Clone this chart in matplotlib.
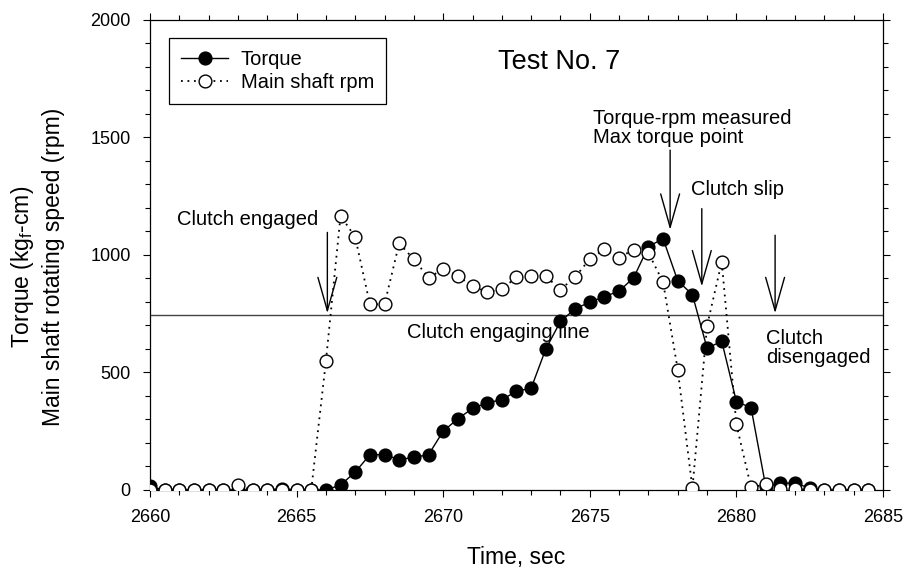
import numpy as np
import matplotlib
matplotlib.use('Agg')
import matplotlib.pyplot as plt
from matplotlib.ticker import MultipleLocator

plt.rcParams['font.family'] = ['Liberation Sans', 'DejaVu Sans']
plt.rcParams['mathtext.fontset'] = 'custom'
plt.rcParams['mathtext.rm'] = 'Liberation Sans'

# time samples every 0.5 s
time = np.arange(2660, 2685, 0.5)

torque = [15, 0, 0, 0, 0, 0, 0, 0, 0, 5, 0, 0,
          0, 21, 76, 150, 150, 129, 139, 150, 250, 303, 347, 371, 384, 420, 433,
          600, 717, 771, 799, 823, 846, 904, 1036, 1069, 890, 831, 603, 633,
          376, 350, 15, 29, 29, 8, 0, 0, 0, 0]

rpm = [0, 0, 0, 0, 0, 0, 20, 0, 0, 0, 0, 0,
       547, 1167, 1076, 790, 790, 1050, 981, 904, 939, 911, 867, 843, 854,
       906, 911, 909, 853, 906, 983, 1024, 989, 1023, 1009, 884, 511, 7, 699,
       971, 279, 11, 24, 5, 5, 0, 0, 0, 0, 0]

engaging_level = 745

# arrows: x, top, tip
arrows = [
    (2666.05, 1096, 752),
    (2677.74, 1446, 1107),
    (2678.82, 1197, 866),
    (2681.32, 1084, 752),
]

fig = plt.figure(figsize=(9.05, 5.7), dpi=100)
ax = fig.add_axes([0.1657, 0.1404, 0.8100, 0.8246])

ax.plot(time, torque, color='black', lw=1.0, marker='o', markersize=9.2,
        markerfacecolor='black', markeredgecolor='black', label='Torque',
        zorder=3)
ax.plot(time, rpm, color='black', lw=1.3, linestyle=(0, (1, 2.6)),
        marker='o', markersize=9.2, markerfacecolor='white',
        markeredgecolor='black', markeredgewidth=1.0,
        label='Main shaft rpm', zorder=4)

ax.axhline(engaging_level, color='#444444', lw=1.0, zorder=2)

for x, top, tip in arrows:
    ax.annotate('', xy=(x, tip), xytext=(x, top),
                arrowprops=dict(arrowstyle='->,head_length=1.2,head_width=0.34',
                                lw=1.0, color='black', shrinkA=0, shrinkB=0,
                                mutation_scale=20),
                zorder=5)

fs = 14.5
ax.text(2671.87, 1822, 'Test No. 7', fontsize=19.5, ha='left', va='center')
ax.text(2675.1, 1540, 'Torque-rpm measured\nMax torque point', fontsize=fs,
        ha='left', va='center', linespacing=1.0)
ax.text(2678.44, 1277, 'Clutch slip', fontsize=fs, ha='left', va='center')
ax.text(2660.92, 1153, 'Clutch engaged', fontsize=fs, ha='left', va='center')
ax.text(2668.77, 672, 'Clutch engaging line', fontsize=fs, ha='left',
        va='center')
ax.text(2681.0, 604, 'Clutch\ndisengaged', fontsize=fs, ha='left',
        va='center', linespacing=1.0)

ax.set_xlim(2660, 2685)
ax.set_ylim(0, 2000)
ax.xaxis.set_major_locator(MultipleLocator(5))
ax.xaxis.set_minor_locator(MultipleLocator(1))
ax.yaxis.set_major_locator(MultipleLocator(500))
ax.yaxis.set_minor_locator(MultipleLocator(100))
ax.tick_params(which='both', direction='out', top=True, right=True,
               labelsize=13, width=0.8, pad=9)
ax.tick_params(which='major', length=5)
ax.tick_params(which='minor', length=3.6)
for sp in ax.spines.values():
    sp.set_linewidth(0.9)

ax.set_xlabel('Time, sec', fontsize=16.5, labelpad=14)
fig.text(0.0409, 0.531,
         'Torque (kg$_\\mathregular{f}$-cm)\nMain shaft rotating speed (rpm)',
         fontsize=16.5, rotation=90, ha='center', va='center',
         multialignment='center', linespacing=1.3)

leg = ax.legend(loc='upper left', bbox_to_anchor=(0.026, 0.962),
                borderaxespad=0, fancybox=False, edgecolor='black',
                fontsize=fs, handlelength=2.34, handletextpad=0.63,
                labelspacing=0.2, borderpad=0.6, framealpha=1)
leg.get_frame().set_linewidth(0.9)

fig.savefig('out.png', dpi=100)
